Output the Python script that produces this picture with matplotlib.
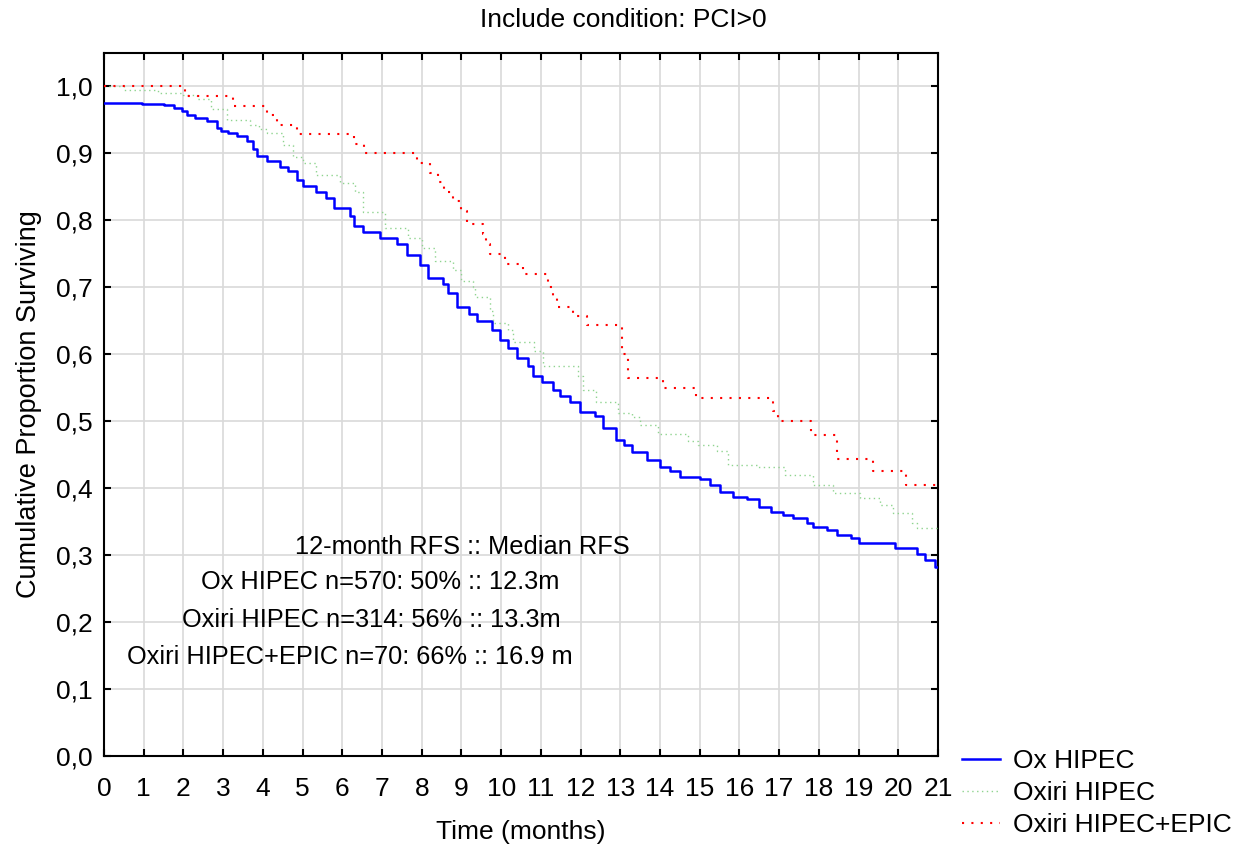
import numpy as np
import matplotlib as mpl
import matplotlib.pyplot as plt

mpl.rcParams['font.family'] = 'sans-serif'
mpl.rcParams['font.sans-serif'] = ['Liberation Sans', 'DejaVu Sans']
mpl.rcParams['font.size'] = 19.0

# Ox HIPEC (n=570)
ox_t = [0, 0.95, 1.5, 1.75, 1.96, 2.1, 2.3, 2.6, 2.84, 2.95, 3.12, 3.35, 3.6, 3.76, 3.85,
        4.1, 4.43, 4.64, 4.86, 5.0, 5.35, 5.6, 5.8, 6.2, 6.3, 6.52, 6.95, 7.37, 7.63, 7.96,
        8.17, 8.54, 8.67, 8.88, 9.2, 9.4, 9.77, 9.97, 10.17, 10.4, 10.68, 10.8, 11.03, 11.3,
        11.48, 11.73, 11.99, 12.36, 12.57, 12.9, 13.1, 13.3, 13.67, 14.0, 14.25, 14.5, 15.0,
        15.26, 15.5, 15.84, 16.2, 16.5, 16.8, 17.1, 17.35, 17.7, 17.86, 18.2, 18.46, 18.8,
        19.0, 19.92, 20.47, 20.68, 20.93, 21.0]
ox_s = [0.976, 0.974, 0.972, 0.968, 0.963, 0.958, 0.953, 0.948, 0.938, 0.933, 0.930, 0.926,
        0.918, 0.906, 0.896, 0.888, 0.880, 0.874, 0.861, 0.851, 0.843, 0.834, 0.819, 0.806,
        0.791, 0.783, 0.774, 0.764, 0.749, 0.734, 0.714, 0.705, 0.692, 0.671, 0.660, 0.649,
        0.637, 0.622, 0.609, 0.595, 0.582, 0.567, 0.559, 0.547, 0.537, 0.529, 0.514, 0.508,
        0.490, 0.472, 0.465, 0.454, 0.442, 0.432, 0.425, 0.417, 0.413, 0.405, 0.395, 0.387,
        0.384, 0.372, 0.365, 0.360, 0.356, 0.348, 0.342, 0.338, 0.330, 0.326, 0.318, 0.310,
        0.302, 0.293, 0.283, 0.283]

# Oxiri HIPEC (n=314)
oxiri_t = [0, 0.5, 1.36, 2.0, 2.33, 2.7, 3.1, 3.67, 3.9, 4.1, 4.5, 4.77, 5.0, 5.35, 5.94,
           6.32, 6.53, 7.07, 7.65, 8.0, 8.33, 8.8, 9.0, 9.3, 9.35, 9.72, 9.8, 10.17, 10.3,
           10.83, 11.05, 11.94, 12.07, 12.4, 12.95, 13.3, 13.5, 13.95, 14.7, 14.95, 15.43,
           15.7, 16.44, 17.15, 17.86, 18.36, 19.04, 19.54, 19.87, 20.35, 20.47, 21.0]
oxiri_s = [1.0, 0.994, 0.991, 0.987, 0.982, 0.967, 0.950, 0.943, 0.936, 0.931, 0.913, 0.894,
           0.886, 0.868, 0.856, 0.843, 0.812, 0.788, 0.774, 0.759, 0.739, 0.726, 0.709, 0.701,
           0.685, 0.665, 0.647, 0.637, 0.619, 0.605, 0.582, 0.567, 0.547, 0.529, 0.513, 0.507,
           0.494, 0.481, 0.470, 0.465, 0.455, 0.435, 0.431, 0.419, 0.405, 0.393, 0.386, 0.375,
           0.363, 0.348, 0.340, 0.338]

# Oxiri HIPEC+EPIC (n=70)
epic_t = [0, 2.04, 3.25, 4.1, 4.35, 4.86, 6.3, 6.55, 7.88, 8.2, 8.4, 8.57, 8.8, 9.0, 9.13,
          9.55, 9.62, 9.72, 10.1, 10.55, 11.18, 11.3, 11.4, 11.8, 12.16, 13.05, 13.2, 14.07,
          14.9, 16.85, 16.97, 17.8, 18.46, 19.37, 20.2, 21.0]
epic_s = [1.0, 0.986, 0.971, 0.957, 0.943, 0.929, 0.914, 0.900, 0.886, 0.871, 0.857, 0.843,
          0.829, 0.814, 0.794, 0.779, 0.764, 0.750, 0.735, 0.720, 0.700, 0.686, 0.671, 0.657,
          0.643, 0.600, 0.564, 0.549, 0.534, 0.516, 0.500, 0.480, 0.444, 0.425, 0.405, 0.405]

x_ticks = list(range(0, 22))
y_ticks = [0.0, 0.1, 0.2, 0.3, 0.4, 0.5, 0.6, 0.7, 0.8, 0.9, 1.0]
y_ticklabels = ['0,0', '0,1', '0,2', '0,3', '0,4', '0,5', '0,6', '0,7', '0,8', '0,9', '1,0']

notes = ["12-month RFS :: Median RFS",
         "Ox HIPEC n=570: 50% :: 12.3m",
         "Oxiri HIPEC n=314: 56% :: 13.3m",
         "Oxiri HIPEC+EPIC n=70: 66% :: 16.9 m"]
notes_x = [4.81, 2.44, 1.96, 0.58]
notes_y = [0.312, 0.260, 0.203, 0.148]

fig = plt.figure(figsize=(12.47, 8.44), dpi=100)
ax = fig.add_axes([104/1247, 1-756/844, (938-104)/1247, (756-53)/844])

ax.step(ox_t, ox_s, where='post', color='#0000ff', lw=1.8, label='Ox HIPEC', zorder=3)
ax.step(oxiri_t, oxiri_s, where='post', color='#8fd48f', lw=1.0, ls=(0, (1, 2.5)),
        label='Oxiri HIPEC', zorder=3)
ax.step(epic_t, epic_s, where='post', color='#ff0000', lw=1.5, ls=(0, (1, 3.5)),
        label='Oxiri HIPEC+EPIC', zorder=3)

ax.set_xlim(0, 21)
ax.set_ylim(0, 1.05)
ax.set_xticks(x_ticks)
ax.set_yticks(y_ticks)
ax.set_yticklabels(y_ticklabels)
ax.grid(True, color='#d9d9d9', lw=1.2)
ax.set_axisbelow(True)
ax.tick_params(direction='in', top=True, right=True, length=5, width=1.5,
               labelsize=19)
ax.tick_params(axis='x', pad=15)
ax.tick_params(axis='y', pad=8)
for sp in ax.spines.values():
    sp.set_linewidth(1.5)

for txt, xx, yy in zip(notes, notes_x, notes_y):
    ax.text(xx, yy, txt, ha='left', va='center', fontsize=18.3)

fig.text(0.5, 1-20/844, "Include condition: PCI>0", ha='center', va='center', fontsize=19)
ax.set_xlabel("Time (months)", labelpad=14)
ax.set_ylabel("Cumulative Proportion Surviving", labelpad=10, fontsize=19.5)

fig.legend(loc='upper left', bbox_to_anchor=(962/1247, 1-749/844), frameon=False,
           handlelength=1.45, handletextpad=0.5, labelspacing=0.3, borderaxespad=0,
           borderpad=0, fontsize=19)

fig.savefig("out.png")
plt.close('all')
